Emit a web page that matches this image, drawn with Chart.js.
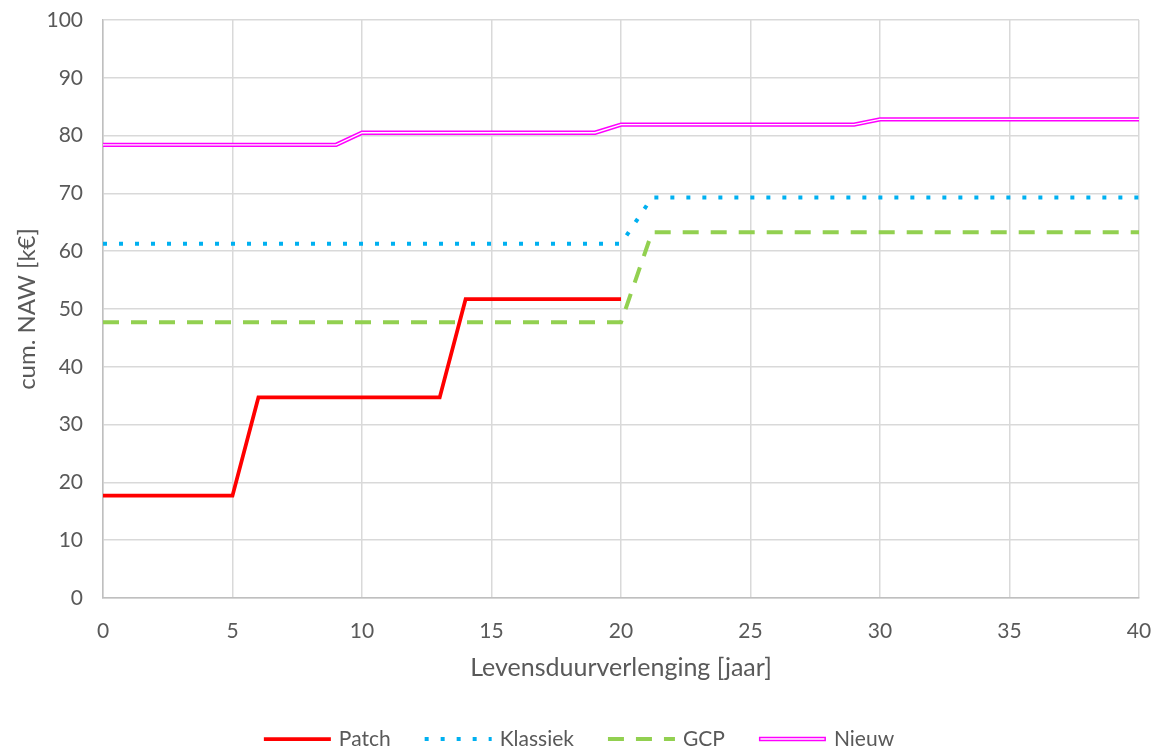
<!DOCTYPE html>
<html>
<head>
<meta charset="utf-8">
<script src="https://cdn.jsdelivr.net/npm/chart.js@4/dist/chart.umd.min.js"></script>
<style>
  html, body { margin: 0; padding: 0; background: #fff; }
  #wrap { width: 1158px; height: 751px; }
</style>
</head>
<body>
<div id="wrap"><canvas id="naw"></canvas></div>
<script>
// cumulatieve NAW per variant, stappen per levensduurverlenging (jaar)
const patchX = [0, 5, 6, 13, 14, 20];
const patchY = [17.7, 17.7, 34.7, 34.7, 51.7, 51.7];
const klassiekX = [0, 20, 21.2, 40];
const klassiekY = [61.3, 61.3, 69.3, 69.3];
const gcpX = [0, 20, 21.2, 40];
const gcpY = [47.7, 47.7, 63.3, 63.3];
const nieuwX = [0, 9, 10, 19, 20, 29, 30, 40];
const nieuwY = [78.4, 78.4, 80.5, 80.5, 81.9, 81.9, 82.8, 82.8];
const seriesNames = ['Patch', 'Klassiek', 'GCP', 'Nieuw'];

const textColor = '#595959';
const fontFam = 'Lato, "Liberation Sans", sans-serif';

function pts(xs, ys) {
    return xs.map((x, i) => ({ x: x, y: ys[i] }));
}

// legenda onderaan, lijnstijl per serie
const bottomLegend = {
    id: 'bottomLegend',
    afterDraw(chart) {
        const ctx = chart.ctx;
        const sampleW = 67, gapText = 8, gapItem = 34, y = 739;
        ctx.save();
        ctx.font = '21px ' + fontFam;
        const items = chart.data.datasets.filter(d => d.legend);
        let total = 0;
        items.forEach((d, i) => {
            total += sampleW + gapText + ctx.measureText(d.label).width;
            if (i < items.length - 1) total += gapItem;
        });
        let x = chart.width / 2 - total / 2;
        items.forEach(d => {
            ctx.beginPath();
            ctx.lineCap = 'butt';
            ctx.setLineDash(d.borderDash || []);
            ctx.strokeStyle = d.borderColor;
            ctx.lineWidth = d.borderWidth;
            ctx.moveTo(x, y);
            ctx.lineTo(x + sampleW, y);
            ctx.stroke();
            if (d.label === 'Nieuw') {
                ctx.beginPath();
                ctx.strokeStyle = '#ffffff';
                ctx.lineWidth = 1.4;
                ctx.moveTo(x + 1.5, y);
                ctx.lineTo(x + sampleW - 1.5, y);
                ctx.stroke();
            }
            ctx.setLineDash([]);
            x += sampleW + gapText;
            ctx.fillStyle = textColor;
            ctx.textBaseline = 'middle';
            ctx.fillText(d.label, x, y);
            x += ctx.measureText(d.label).width + gapItem;
        });
        ctx.restore();
    }
};

new Chart(document.getElementById('naw'), {
    type: 'line',
    data: {
        datasets: [
            { label: seriesNames[0], data: pts(patchX, patchY), borderColor: '#ff0000', borderWidth: 3.75, legend: true, order: 1 },
            { label: seriesNames[1], data: pts(klassiekX, klassiekY), borderColor: '#00b0f0', borderWidth: 4, borderDash: [4, 12], legend: true, order: 1 },
            { label: seriesNames[2], data: pts(gcpX, gcpY), borderColor: '#92d050', borderWidth: 4, borderDash: [16, 12], legend: true, order: 1 },
            { label: seriesNames[3], data: pts(nieuwX, nieuwY), borderColor: '#ff00ff', borderWidth: 4.4, legend: true, order: 1 },
            // witte binnenlijn voor de dubbele lijn van Nieuw (bovenop getekend)
            { label: 'Nieuw-binnen', data: pts(nieuwX, nieuwY), borderColor: '#ffffff', borderWidth: 1.4, legend: false, order: 0 }
        ]
    },
    options: {
        responsive: true,
        maintainAspectRatio: false,
        animation: false,
        events: [],
        elements: {
            point: { radius: 0 },
            line: { tension: 0, fill: false, borderCapStyle: 'butt', borderJoinStyle: 'miter' }
        },
        layout: { padding: { left: 0, right: 19, top: 20, bottom: 63 } },
        plugins: {
            legend: { display: false },
            tooltip: { enabled: false }
        },
        scales: {
            x: {
                type: 'linear',
                min: 0,
                max: 40,
                ticks: { stepSize: 5, color: textColor, padding: 21, font: { family: fontFam, size: 21 } },
                grid: { color: '#d9d9d9', lineWidth: 1.5, drawTicks: false },
                border: { color: '#bfbfbf', width: 1.5 },
                title: { display: true, text: 'Levensduurverlenging [jaar]', color: textColor, font: { family: fontFam, size: 25 }, padding: { top: 0, bottom: 5 } },
                afterFit: (s) => { s.height = 90; s.paddingLeft = 0; s.paddingRight = 0; }
            },
            y: {
                min: 0,
                max: 100,
                ticks: { stepSize: 10, color: textColor, padding: 20, font: { family: fontFam, size: 21 } },
                grid: { color: '#d9d9d9', lineWidth: 1.5, drawTicks: false },
                border: { color: '#bfbfbf', width: 1.5 },
                title: { display: true, text: 'cum. NAW [k€]', color: textColor, font: { family: fontFam, size: 24 }, padding: { top: 13, bottom: 0 } },
                afterFit: (s) => { s.width = 103; s.paddingTop = 0; s.paddingBottom = 0; }
            }
        }
    },
    plugins: [bottomLegend]
});
</script>
</body>
</html>
